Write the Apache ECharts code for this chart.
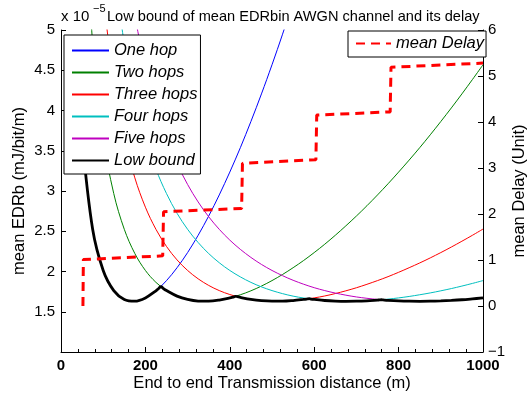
<!DOCTYPE html>
<html>
<head>
<meta charset="utf-8">
<script src="https://cdn.jsdelivr.net/npm/echarts@6/dist/echarts.min.js"></script>
<style>html,body{margin:0;padding:0;background:#fff}#c{width:530px;height:401px}</style>
</head>
<body>
<div id="c"></div>
<script>
// distances (m) for the per-hop curves
const distance = [50,75,100,125,150,175,200,225,250,275,300,325,350,375,400,425,450,475,500,525,550,575,600,625,650,675,700,725,750,775,800,825,850,875,900,925,950,975,1000];
// mean EDRb (x 1e-5 mJ/bit/m)
const oneHop   = [3.657,2.524,2.013,1.763,1.653,1.631,1.672,1.760,1.887,2.047,2.235,2.450,2.689,2.951,3.235,3.538,3.863,4.206,4.568,4.948,5.346,null,null,null,null,null,null,null,null,null,null,null,null,null,null,null,null,null,null];
const twoHops  = [7.21,4.831,3.657,2.968,2.524,2.223,2.013,1.865,1.763,1.694,1.653,1.633,1.631,1.645,1.672,1.711,1.760,1.819,1.887,1.963,2.047,2.137,2.235,2.339,2.450,2.567,2.689,2.817,2.951,3.090,3.235,3.384,3.538,3.698,3.863,4.032,4.206,4.385,4.568];
const threeHops= [null,null,5.424,4.359,3.657,3.163,2.799,2.524,2.311,2.144,2.013,1.909,1.827,1.763,1.714,1.678,1.653,1.637,1.631,1.631,1.639,1.653,1.672,1.696,1.726,1.760,1.798,1.841,1.887,1.936,1.990,2.047,2.106,2.169,2.235,2.304,2.376,2.450,2.527];
const fourHops = [null,null,null,5.781,4.831,4.158,3.657,3.271,2.968,2.723,2.524,2.360,2.223,2.109,2.013,1.933,1.865,1.809,1.763,1.725,1.694,1.671,1.653,1.640,1.633,1.630,1.631,1.636,1.645,1.657,1.672,1.690,1.711,1.734,1.760,1.788,1.819,1.852,1.887];
const fiveHops = [null,null,null,null,null,5.170,4.536,4.046,3.657,3.341,3.081,2.864,2.680,2.524,2.390,2.275,2.175,2.088,2.013,1.948,1.891,1.842,1.799,1.763,1.732,1.706,1.684,1.667,1.653,1.642,1.635,1.631,1.630,1.631,1.635,1.641,1.649,1.660,1.672];
// low bound (min over hop counts)
const boundDistance = [50,75,100,125,150,175,200,225,232,237,242,250,275,300,325,350,375,400,410,414,418,425,450,475,500,525,550,575,584,588,592,600,625,650,675,700,725,750,755,759,763,775,800,825,850,875,900,925,950,975,1000];
const boundValue    = [3.657,2.524,2.013,1.763,1.653,1.631,1.672,1.760,1.792,1.813,1.791,1.763,1.694,1.653,1.633,1.631,1.645,1.672,1.686,1.692,1.687,1.678,1.653,1.637,1.631,1.631,1.639,1.653,1.659,1.662,1.658,1.653,1.640,1.633,1.630,1.631,1.636,1.645,1.647,1.649,1.647,1.642,1.635,1.631,1.630,1.631,1.635,1.641,1.649,1.660,1.672];
// mean delay (units)
const delayDistance = [52,53,241,243,428,430,604,606,780,782,1000];
const delayValue    = [0.0,1.01,1.09,2.05,2.12,3.10,3.18,4.15,4.22,5.19,5.28];
// axis ticks
const xTicks = {min:0, max:1000, step:200};
const yLeftTicks = {min:1, max:5, step:0.5};
const yRightTicks = {min:-1, max:6, step:1};

const F = 'Liberation Sans';
const pairs = (xs, ys) => xs.map((x,i)=>[x, ys[i]]).filter(p => p[1] !== null);

const chart = echarts.init(document.getElementById('c'), null, {renderer:'canvas'});
const curve = (name, ys, color, w) => ({
  name, type:'line', yAxisIndex:0, data: pairs(distance, ys), showSymbol:false, symbol:'none',
  smooth:0.35, lineStyle:{color, width:w}, itemStyle:{color}, clip:true
});
const legendText = {fontSize:16.5, fontStyle:'italic', color:'#000', fontFamily:F};
chart.setOption({
  animation:false,
  backgroundColor:'#fff',
  title:[
    {text:'x 10', left:61, top:9, padding:0, textStyle:{fontSize:15, fontWeight:'normal', color:'#000', fontFamily:F}},
    {text:'\u22125', left:93, top:3, padding:0, textStyle:{fontSize:11, fontWeight:'normal', color:'#000', fontFamily:F}},
    {text:'Low bound of mean EDRbin AWGN channel and its delay', left:107, top:9, padding:0, textStyle:{fontSize:14.6, fontWeight:'normal', color:'#000', fontFamily:F}}
  ],
  grid:{left:61, right:47, top:30, bottom:49, containLabel:false, outerBoundsMode:'none'},
  legend:[
    {data:['One hop','Two hops','Three hops','Four hops','Five hops','Low bound'], orient:'vertical', left:64, top:35,
     itemWidth:37, itemHeight:14, itemGap:5, padding:[7,3,5,7], backgroundColor:'#fff', borderColor:'#000', borderWidth:1,
     borderRadius:0, selectedMode:false, itemStyle:{opacity:0}, textStyle:legendText},
    {data:['mean Delay'], orient:'vertical', left:348, top:31,
     itemWidth:35, itemHeight:14, itemGap:5, padding:[4,2,5,7], backgroundColor:'#fff', borderColor:'#000', borderWidth:1,
     borderRadius:0, selectedMode:false, itemStyle:{opacity:0}, textStyle:legendText}
  ],
  xAxis:{type:'value', min:xTicks.min, max:xTicks.max, interval:xTicks.step,
    name:'End to end Transmission distance (m)', nameLocation:'middle', nameGap:23, nameMoveOverlap:false,
    nameTextStyle:{fontSize:16.5, color:'#000', fontFamily:F},
    axisLine:{onZero:false, lineStyle:{color:'#000', width:1}},
    axisTick:{inside:true, length:5, lineStyle:{color:'#000'}},
    minorTick:{show:true, splitNumber:5, length:3, lineStyle:{color:'#000'}},
    splitLine:{show:false},
    axisLabel:{fontSize:15, fontWeight:'bold', color:'#000', fontFamily:F, margin:6, formatter: v => String(v)}
  },
  yAxis:[
    {type:'value', min:yLeftTicks.min, max:yLeftTicks.max, interval:yLeftTicks.step, position:'left',
     name:'mean EDRb (mJ/bit/m)', nameLocation:'middle', nameGap:33, nameMoveOverlap:false,
     nameTextStyle:{fontSize:16.5, color:'#000', fontFamily:F},
     axisLine:{show:true, onZero:false, lineStyle:{color:'#000', width:1}},
     axisTick:{show:true, inside:true, length:5, lineStyle:{color:'#000'}},
     splitLine:{show:false},
     axisLabel:{fontSize:15, color:'#000', fontFamily:F, margin:6, showMinLabel:false}
    },
    {type:'value', min:yRightTicks.min, max:yRightTicks.max, interval:yRightTicks.step, position:'right',
     name:'mean Delay (Unit)', nameLocation:'middle', nameGap:28, nameRotate:90, nameMoveOverlap:false,
     nameTextStyle:{fontSize:16.5, color:'#000', fontFamily:F},
     axisLine:{show:true, onZero:false, lineStyle:{color:'#000', width:1}},
     axisTick:{show:true, inside:true, length:5, lineStyle:{color:'#000'}},
     splitLine:{show:false},
     axisLabel:{fontSize:15, color:'#000', fontFamily:F, margin:5,
       formatter: v => v < 0 ? '\u2212' + Math.abs(v) : String(v)}
    }
  ],
  series:[
    curve('One hop', oneHop, '#0000ff', 1),
    curve('Two hops', twoHops, '#008000', 1),
    curve('Three hops', threeHops, '#ff0000', 1),
    curve('Four hops', fourHops, '#00bfbf', 1),
    curve('Five hops', fiveHops, '#bf00bf', 1),
    {name:'Low bound', type:'line', yAxisIndex:0, data:pairs(boundDistance, boundValue), showSymbol:false, symbol:'none',
     smooth:0.35, lineStyle:{color:'#000', width:2.8}, itemStyle:{color:'#000'}, clip:true},
    {name:'mean Delay', type:'line', yAxisIndex:1, data:pairs(delayDistance, delayValue), showSymbol:false, symbol:'none',
     lineStyle:{color:'#ff0000', width:3, type:[9,6]}, itemStyle:{color:'#ff0000'}, clip:true}
  ]
});
</script>
</body>
</html>
